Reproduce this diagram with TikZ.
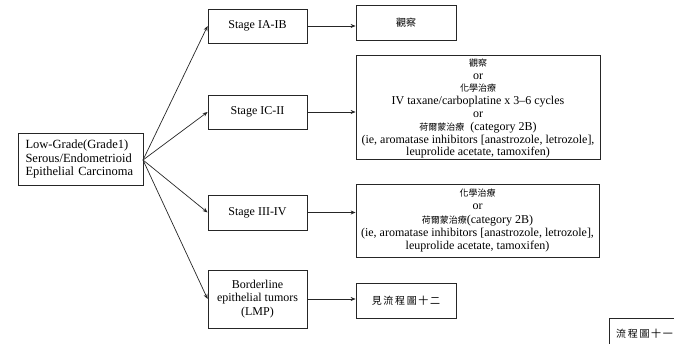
\documentclass[tikz,border=0pt]{standalone}
\usepackage{fontspec}
\setmainfont{Liberation Serif}
\newfontfamily\cjk{Noto Sans CJK TC}
\usetikzlibrary{arrows.meta}
\newcommand{\zh}[1]{{\cjk\fontsize{9}{12.8}\selectfont #1}}
\begin{document}
\begin{tikzpicture}[x=1pt,y=-1pt,
  box/.style={draw=black!85, line width=0.8pt, rectangle, inner sep=0pt, align=center,
    font=\fontsize{12}{13.2}\selectfont},
  txt/.style={inner sep=0pt, align=center, font=\fontsize{12}{12.8}\selectfont},
  link/.style={draw=black!85, line width=0.7pt, -{Stealth[length=5pt,width=4pt]}}]
\useasboundingbox (0,0) rectangle (674,344);
\clip (0,0) rectangle (674,344);

% source box
\node[box, minimum width=125pt, minimum height=52pt, text width=110pt, align=left,
  font=\fontsize{12.5}{13.5}\selectfont] (src) at (80.5,159)
  {Low-Grade(Grade1)\\Serous/Endometrioid\\Epithelial Carcinoma};
\coordinate (fan) at (143,160);

% stage boxes
\node[box, minimum width=99pt, minimum height=34pt] (s1) at (257.5,26) {Stage IA-IB};
\node[box, minimum width=99pt, minimum height=34pt] (s2) at (257.5,112) {Stage IC-II};
\node[box, minimum width=99pt, minimum height=35pt] (s3) at (257.5,212.5) {Stage III-IV};
\node[box, minimum width=99pt, minimum height=58pt] (s4) at (257.5,299)
  {Borderline\\epithelial tumors\\(LMP)};

% treatment boxes
\node[box, minimum width=100pt, minimum height=35pt] (r1) at (406,22.5)
  {{\cjk\fontsize{10}{13}\selectfont 觀察}};
\node[box, minimum width=244pt, minimum height=104pt] (r2) at (478,107) {};
\node[txt] (r2t) at (478,108.5)
  {\zh{觀察}\\or\\\zh{化學治療}\\IV taxane/carboplatine x 3--6 cycles\\or\\
   \zh{荷爾蒙治療}\ \ (category 2B)\\(ie, aromatase inhibitors [anastrozole, letrozole],\\
   leuprolide acetate, tamoxifen)};
\node[box, minimum width=243pt, minimum height=73pt] (r3) at (477.5,220.5)
  {\zh{化學治療}\\or\\\zh{荷爾蒙治療}(category 2B)\\(ie, aromatase inhibitors [anastrozole, letrozole],\\
   leuprolide acetate, tamoxifen)};
\node[box, minimum width=100pt, minimum height=35pt] (r4) at (406,300.5)
  {{\cjk\fontsize{10}{13}\selectfont 見\,流\,程\,圖\,十\,二}};

% page reference box at the corner
\node[box, minimum width=80pt, minimum height=40pt, anchor=north west] (pg) at (609,318) {};
\node[anchor=west, inner sep=0pt, font=\cjk\fontsize{10}{13}\selectfont] (pgt) at (616,334) {流\,程\,圖\,十\,一};

% connectors
\foreach \s in {s1,s2,s3,s4} \draw[link] (fan) -- (\s.west);
\draw[link] (s1.east) -- (s1.east -| r1.west);
\draw[link] (s2.east) -- (s2.east -| r2.west);
\draw[link] (s3.east) -- (s3.east -| r3.west);
\draw[link] (s4.east) -- (s4.east -| r4.west);
\end{tikzpicture}
\end{document}
